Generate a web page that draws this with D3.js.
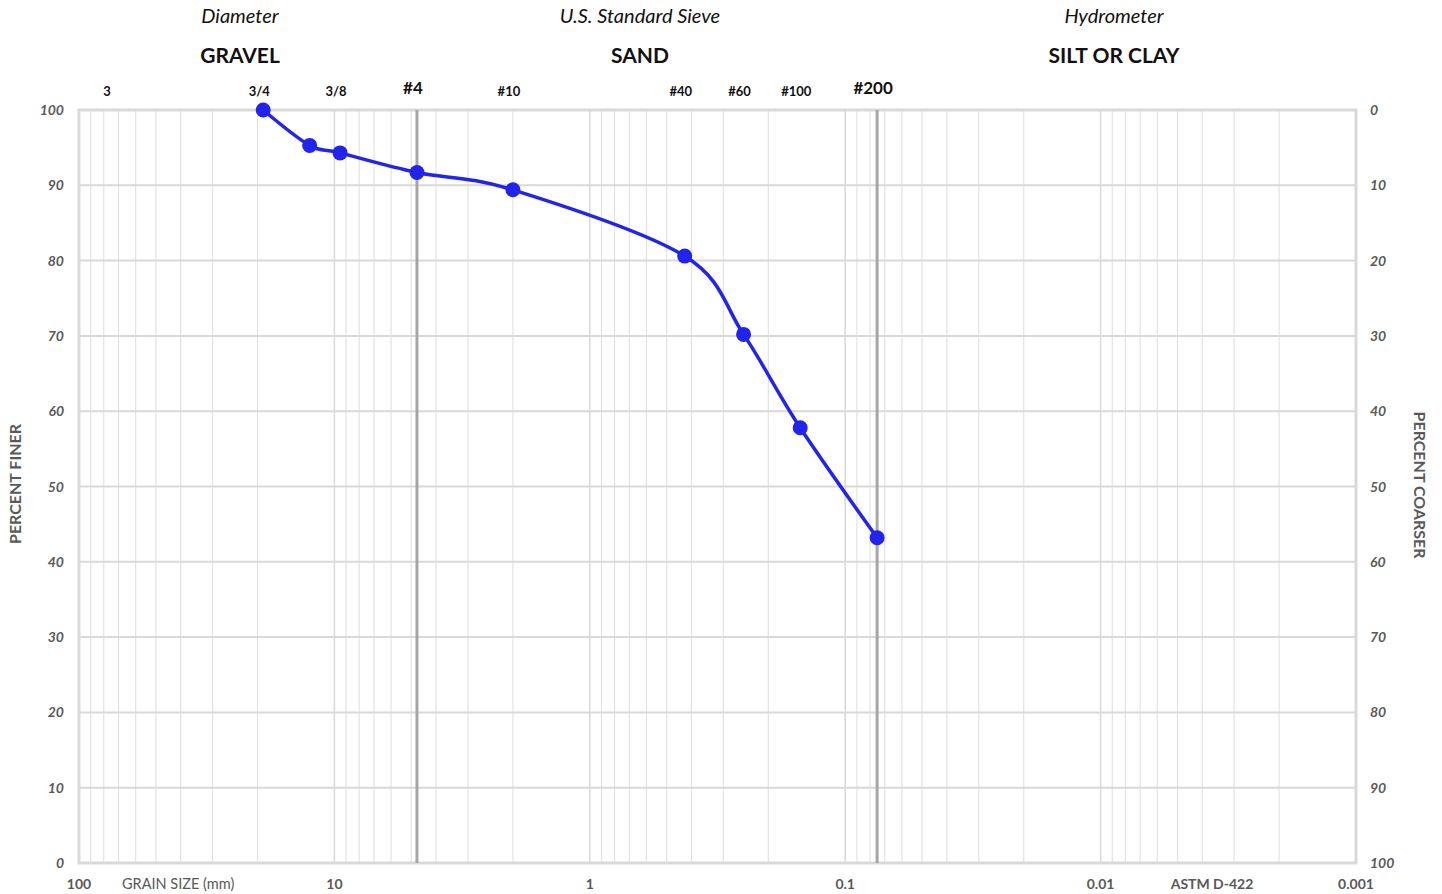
<!DOCTYPE html>
<html>
<head>
<meta charset="utf-8">
<script src="https://cdn.jsdelivr.net/npm/d3@7"></script>
<style>
  body { margin: 0; background: #fff; }
  svg { font-family: Lato, "Open Sans", sans-serif; }
</style>
</head>
<body>
<div id="chart"></div>
<script>
// Sieve analysis results
var sieveNames = ["3/4", "1/2", "3/8", "#4", "#10", "#40", "#60", "#100", "#200"];
var sieveSizes = [19, 12.5, 9.5, 4.75, 2.0, 0.425, 0.25, 0.15, 0.075];
var percentFiner = [100, 95.3, 94.3, 91.7, 89.4, 80.6, 70.2, 57.8, 43.2];

// Labels along the top edge
var topLabels = ["3", "3/4", "3/8", "#4", "#10", "#40", "#60", "#100", "#200"];
var topSizes = [75, 19, 9.5, 4.75, 2.0, 0.425, 0.25, 0.15, 0.075];
var majorSieves = ["#4", "#200"];

// Axis ticks
var xTicks = [100, 10, 1, 0.1, 0.01, 0.001];
var xTickLabels = ["100", "10", "1", "0.1", "0.01", "0.001"];
var yTicks = [0, 10, 20, 30, 40, 50, 60, 70, 80, 90, 100];

// Headings
var headingSubs = ["Diameter", "U.S. Standard Sieve", "Hydrometer"];
var headingMains = ["GRAVEL", "SAND", "SILT OR CLAY"];

var width = 1442, height = 894;
var pL = 79, pR = 1356, pT = 110, pB = 863;
var headingX = [240, 640, 1114];

var svg = d3.select("#chart").append("svg")
  .attr("width", width)
  .attr("height", height);

var x = d3.scaleLog().domain([100, 0.001]).range([pL, pR]);
var y = d3.scaleLinear().domain([0, 100]).range([pB, pT]);

// minor vertical grid lines (2..9 in each decade)
var minor = [];
for (var d = -3; d < 2; d++) {
  for (var k = 2; k <= 9; k++) minor.push(k * Math.pow(10, d));
}
svg.append("g").selectAll("line")
  .data(minor)
  .enter().append("line")
  .attr("x1", d => x(d)).attr("x2", d => x(d))
  .attr("y1", pT).attr("y2", pB)
  .style("stroke", "#e3e3e3")
  .style("stroke-width", 1.2);

// decade lines
svg.append("g").selectAll("line")
  .data(xTicks)
  .enter().append("line")
  .attr("x1", d => x(d)).attr("x2", d => x(d))
  .attr("y1", pT).attr("y2", pB)
  .style("stroke", "#d9d9d9")
  .style("stroke-width", 1.5);

// horizontal grid
svg.append("g").selectAll("line")
  .data(yTicks)
  .enter().append("line")
  .attr("x1", pL).attr("x2", pR)
  .attr("y1", d => y(d)).attr("y2", d => y(d))
  .style("stroke", "#d9d9d9")
  .style("stroke-width", 2);

// border
svg.append("rect")
  .attr("x", pL).attr("y", pT)
  .attr("width", pR - pL).attr("height", pB - pT)
  .style("fill", "none")
  .style("stroke", "#d9d9d9")
  .style("stroke-width", 3);

// #4 and #200 dividing lines
svg.append("g").selectAll("line")
  .data(majorSieves)
  .enter().append("line")
  .attr("x1", d => x(topSizes[topLabels.indexOf(d)]))
  .attr("x2", d => x(topSizes[topLabels.indexOf(d)]))
  .attr("y1", pT).attr("y2", pB)
  .style("stroke", "#a6a6a6")
  .style("stroke-width", 3);

// headings
svg.append("g").selectAll("text")
  .data(headingSubs)
  .enter().append("text")
  .attr("x", (d, i) => headingX[i]).attr("y", 23)
  .attr("text-anchor", "middle")
  .style("font-style", "italic")
  .style("font-size", "20px")
  .style("fill", "#111")
  .text(d => d);
svg.append("g").selectAll("text")
  .data(headingMains)
  .enter().append("text")
  .attr("x", (d, i) => headingX[i]).attr("y", 63)
  .attr("text-anchor", "middle")
  .style("font-weight", "bold")
  .style("font-size", "21px")
  .style("fill", "#111")
  .text(d => d);

// sieve labels on top
svg.append("g").selectAll("text")
  .data(topLabels)
  .enter().append("text")
  .attr("x", (d, i) => x(topSizes[i]) - 4)
  .attr("y", d => majorSieves.includes(d) ? 94 : 96)
  .attr("text-anchor", "middle")
  .style("font-weight", "bold")
  .style("font-size", d => majorSieves.includes(d) ? "17px" : "13px")
  .style("fill", "#111")
  .text(d => d);

// left axis
svg.append("g").selectAll("text")
  .data(yTicks)
  .enter().append("text")
  .attr("x", 64).attr("y", d => y(d) + 5)
  .attr("text-anchor", "end")
  .style("font-weight", "bold").style("font-style", "italic")
  .style("font-size", "14px").style("fill", "#595959")
  .text(d => d);

// right axis (percent coarser)
svg.append("g").selectAll("text")
  .data(yTicks)
  .enter().append("text")
  .attr("x", 1370).attr("y", d => y(d) + 5)
  .attr("text-anchor", "start")
  .style("font-weight", "bold").style("font-style", "italic")
  .style("font-size", "14px").style("fill", "#595959")
  .text(d => 100 - d);

// bottom axis
svg.append("g").selectAll("text")
  .data(xTicks)
  .enter().append("text")
  .attr("x", d => x(d)).attr("y", 889)
  .attr("text-anchor", "middle")
  .style("font-weight", "bold")
  .style("font-size", "14px").style("fill", "#595959")
  .text((d, i) => xTickLabels[i]);

svg.append("text")
  .attr("x", 122).attr("y", 889)
  .style("font-size", "14.5px").style("fill", "#595959")
  .text("GRAIN SIZE (mm)");
svg.append("text")
  .attr("x", 1212).attr("y", 889)
  .attr("text-anchor", "middle")
  .style("font-weight", "bold")
  .style("font-size", "14px").style("fill", "#595959")
  .text("ASTM D-422");

svg.append("text")
  .attr("transform", "translate(21,484) rotate(-90)")
  .attr("text-anchor", "middle")
  .style("font-weight", "bold")
  .style("font-size", "16px").style("fill", "#595959")
  .text("PERCENT FINER");
svg.append("text")
  .attr("transform", "translate(1414,485) rotate(90)")
  .attr("text-anchor", "middle")
  .style("font-weight", "bold")
  .style("font-size", "16px").style("fill", "#595959")
  .text("PERCENT COARSER");

// gradation curve
var pts = sieveSizes.map((s, i) => [s, percentFiner[i]]);
var line = d3.line()
  .x(d => x(d[0]))
  .y(d => y(d[1]))
  .curve(d3.curveCardinal.tension(0));

svg.append("path")
  .datum(pts)
  .attr("d", line)
  .style("fill", "none")
  .style("stroke", "#2323ee")
  .style("stroke-width", 3.5);

svg.append("g").selectAll("circle")
  .data(pts)
  .enter().append("circle")
  .attr("cx", d => x(d[0]))
  .attr("cy", d => y(d[1]))
  .attr("r", 7.5)
  .style("fill", "#2323ee");
</script>
</body>
</html>
